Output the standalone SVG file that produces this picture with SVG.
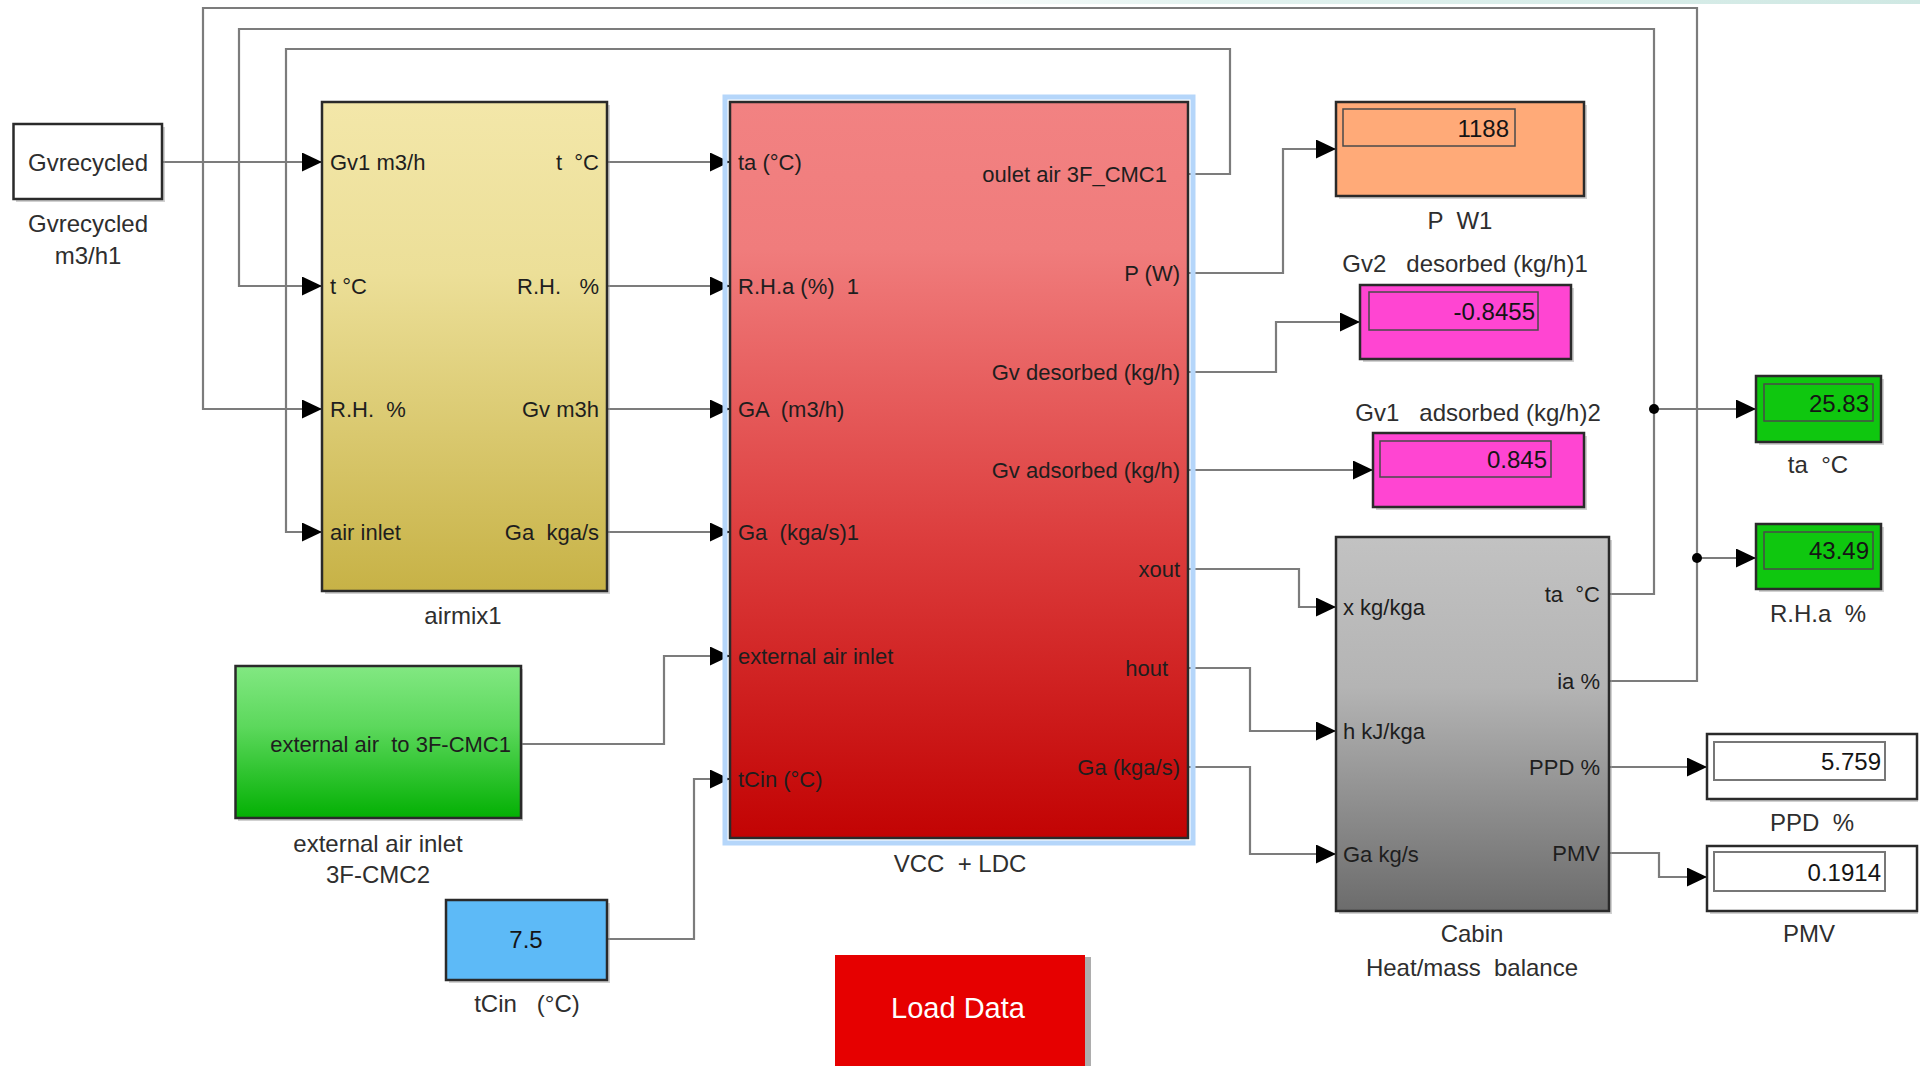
<svg xmlns="http://www.w3.org/2000/svg" width="1920" height="1066" viewBox="0 0 1920 1066" xml:space="preserve">
<defs>
<style>
text{white-space:pre}
.port{font-family:"Liberation Sans",Arial,sans-serif;font-size:22px;fill:#1e1e1e}
.lbl{font-family:"Liberation Sans",Arial,sans-serif;font-size:24px;fill:#2e2e2e}
.val{font-family:"Liberation Sans",Arial,sans-serif;font-size:24px;fill:#151515}
.end{text-anchor:end}
.mid{text-anchor:middle}
.blk{stroke:#2a2a2a;stroke-width:2.5}
.inner{fill:none;stroke:#4a4a4a;stroke-width:1.5}
.wire{fill:none;stroke:#7c7c7c;stroke-width:2.2}
.shadow{fill:#9a9a9a;opacity:0.45}
</style>
<marker id="arr" viewBox="0 0 20 19" refX="20" refY="9.5" markerWidth="20" markerHeight="19" markerUnits="userSpaceOnUse" orient="auto">
<path d="M0,0 L20,9.5 L0,19 Z" fill="#000"/>
</marker>
<linearGradient id="gMix" x1="0" y1="0" x2="0" y2="1"><stop offset="0" stop-color="#f3e7a9"/><stop offset="0.35" stop-color="#ecdf98"/><stop offset="1" stop-color="#c7b246"/></linearGradient>
<linearGradient id="gVcc" x1="0" y1="0" x2="0" y2="1"><stop offset="0" stop-color="#f28282"/><stop offset="0.2" stop-color="#f07c7c"/><stop offset="0.6" stop-color="#dc3c3c"/><stop offset="1" stop-color="#c20303"/></linearGradient>
<linearGradient id="gCab" x1="0" y1="0" x2="0" y2="1"><stop offset="0" stop-color="#c2c2c2"/><stop offset="0.4" stop-color="#b4b4b4"/><stop offset="1" stop-color="#6c6c6c"/></linearGradient>
<linearGradient id="gExt" x1="0" y1="0" x2="0" y2="1"><stop offset="0" stop-color="#82e882"/><stop offset="0.4" stop-color="#5cd85c"/><stop offset="1" stop-color="#03b003"/></linearGradient>
<linearGradient id="gTop" x1="0" y1="0" x2="1" y2="0"><stop offset="0" stop-color="#ffffff"/><stop offset="0.3" stop-color="#e2f2ef"/><stop offset="1" stop-color="#cfe8e3"/></linearGradient>
</defs>
<rect x="0" y="0" width="1920" height="1066" fill="#ffffff"/>
<rect x="900" y="0" width="1020" height="4" fill="url(#gTop)"/>

<g id="connectors">
<polyline class="wire" points="162,162 322,162" marker-end="url(#arr)"/>
<polyline class="wire" points="607,162 730,162" marker-end="url(#arr)"/>
<polyline class="wire" points="607,286 730,286" marker-end="url(#arr)"/>
<polyline class="wire" points="607,409 730,409" marker-end="url(#arr)"/>
<polyline class="wire" points="607,532 730,532" marker-end="url(#arr)"/>
<polyline class="wire" points="1609,681 1697,681 1697,8 203,8 203,409 322,409" marker-end="url(#arr)"/>
<polyline class="wire" points="1609,594 1654,594 1654,29 239,29 239,286 322,286" marker-end="url(#arr)"/>
<polyline class="wire" points="1188,174 1230,174 1230,49 286,49 286,532 322,532" marker-end="url(#arr)"/>
<polyline class="wire" points="1654,409 1756,409" marker-end="url(#arr)"/>
<polyline class="wire" points="1697,558 1756,558" marker-end="url(#arr)"/>
<circle cx="1654" cy="409" r="5" fill="#000"/>
<circle cx="1697" cy="558" r="5" fill="#000"/>
<polyline class="wire" points="1188,273 1283,273 1283,149 1336,149" marker-end="url(#arr)"/>
<polyline class="wire" points="1188,372 1276,372 1276,322 1360,322" marker-end="url(#arr)"/>
<polyline class="wire" points="1188,470 1373,470" marker-end="url(#arr)"/>
<polyline class="wire" points="1188,569 1299,569 1299,607 1336,607" marker-end="url(#arr)"/>
<polyline class="wire" points="1188,668 1250,668 1250,731 1336,731" marker-end="url(#arr)"/>
<polyline class="wire" points="1188,767 1250,767 1250,854 1336,854" marker-end="url(#arr)"/>
<polyline class="wire" points="521,744 664,744 664,656 730,656" marker-end="url(#arr)"/>
<polyline class="wire" points="607,939 694,939 694,779 730,779" marker-end="url(#arr)"/>
<polyline class="wire" points="1609,767 1707,767" marker-end="url(#arr)"/>
<polyline class="wire" points="1609,853 1659,853 1659,877 1707,877" marker-end="url(#arr)"/>
</g>

<g id="gvrecycled">
<rect class="shadow" x="16" y="127" width="149" height="75"/>
<rect x="13.5" y="124" width="148.5" height="75" fill="#fff" class="blk"/>
<text class="lbl mid" x="88" y="170.5">Gvrecycled</text>
<text class="lbl mid" x="88" y="231.5">Gvrecycled</text>
<text class="lbl mid" x="88" y="263.5">m3/h1</text>
</g>

<g id="airmix1">
<rect class="shadow" x="325" y="105" width="285" height="489"/>
<rect x="322" y="102" width="285" height="489" fill="url(#gMix)" class="blk"/>
<text class="port" x="330" y="170">Gv1 m3/h</text>
<text class="port" x="330" y="294">t °C</text>
<text class="port" x="330" y="417">R.H.  %</text>
<text class="port" x="330" y="540">air inlet</text>
<text class="port end" x="599" y="170">t  °C</text>
<text class="port end" x="599" y="294">R.H.   %</text>
<text class="port end" x="599" y="417">Gv m3h</text>
<text class="port end" x="599" y="540">Ga  kga/s</text>
<text class="lbl mid" x="463" y="623.5">airmix1</text>
</g>

<g id="vcc-ldc">
<rect x="725" y="97" width="468" height="746" fill="none" stroke="#b5d6fa" stroke-width="5"/>
<rect x="730" y="102" width="458" height="736" fill="url(#gVcc)" class="blk"/>
<text class="port" x="738" y="170">ta (°C)</text>
<text class="port" x="738" y="294">R.H.a (%)  1</text>
<text class="port" x="738" y="417">GA  (m3/h)</text>
<text class="port" x="738" y="540">Ga  (kga/s)1</text>
<text class="port" x="738" y="664">external air inlet</text>
<text class="port" x="738" y="787">tCin (°C)</text>
<text class="port end" x="1167" y="182">oulet air 3F_CMC1</text>
<text class="port end" x="1180" y="281">P (W)</text>
<text class="port end" x="1180" y="380">Gv desorbed (kg/h)</text>
<text class="port end" x="1180" y="478">Gv adsorbed (kg/h)</text>
<text class="port end" x="1180" y="577">xout</text>
<text class="port end" x="1168" y="676">hout</text>
<text class="port end" x="1180" y="775">Ga (kga/s)</text>
<text class="lbl mid" x="960" y="871.5">VCC  + LDC</text>
</g>

<g id="external-air-inlet">
<rect class="shadow" x="238" y="669" width="285" height="152"/>
<rect x="235.5" y="666" width="285.5" height="152" fill="url(#gExt)" class="blk"/>
<text class="port end" x="511" y="752">external air  to 3F-CMC1</text>
<text class="lbl mid" x="378" y="851.5">external air inlet</text>
<text class="lbl mid" x="378" y="882.5">3F-CMC2</text>
</g>

<g id="tcin">
<rect class="shadow" x="449" y="903" width="161" height="80"/>
<rect x="446" y="900" width="161" height="80" fill="#5dbaf7" class="blk"/>
<text class="val mid" x="526" y="947.5">7.5</text>
<text class="lbl mid" x="527" y="1011.5">tCin   (°C)</text>
</g>

<g id="load-data">
<rect x="1085" y="957" width="6" height="109" fill="#8a8a8a" opacity="0.7"/>
<rect x="835" y="955" width="250" height="111" fill="#e60000"/>
<text class="mid" x="958" y="1018" style="font-family:'Liberation Sans',Arial,sans-serif;font-size:29px;fill:#ffffff">Load Data</text>
</g>

<g id="p-w1">
<rect class="shadow" x="1339" y="105" width="248" height="94"/>
<rect x="1336" y="102" width="248" height="94" fill="#ffaa78" class="blk"/>
<rect x="1343" y="109" width="172" height="37" class="inner"/>
<text class="val end" x="1509" y="136.5">1188</text>
<text class="lbl mid" x="1460" y="228.5">P  W1</text>
</g>

<g id="gv2-desorbed">
<text class="lbl mid" x="1465" y="271.5">Gv2   desorbed (kg/h)1</text>
<rect class="shadow" x="1363" y="288" width="211" height="74"/>
<rect x="1360" y="285" width="211" height="74" fill="#ff45d2" class="blk"/>
<rect x="1369" y="292" width="169" height="38" class="inner"/>
<text class="val end" x="1535" y="319.5">-0.8455</text>
</g>

<g id="gv1-adsorbed">
<text class="lbl mid" x="1478" y="420.5">Gv1   adsorbed (kg/h)2</text>
<rect class="shadow" x="1376" y="436" width="211" height="74"/>
<rect x="1373" y="433" width="211" height="74" fill="#ff45d2" class="blk"/>
<rect x="1380" y="441" width="171" height="36" class="inner"/>
<text class="val end" x="1547" y="467.5">0.845</text>
</g>

<g id="ta-display">
<rect class="shadow" x="1759" y="379" width="125" height="66"/>
<rect x="1756" y="376" width="125" height="66" fill="#0fc70f" class="blk"/>
<rect x="1764" y="384" width="109" height="37" class="inner"/>
<text class="val end" x="1869" y="411.5">25.83</text>
<text class="lbl mid" x="1818" y="472.5">ta  °C</text>
</g>

<g id="rha-display">
<rect class="shadow" x="1759" y="527" width="125" height="65"/>
<rect x="1756" y="524" width="125" height="65" fill="#0fc70f" class="blk"/>
<rect x="1764" y="532" width="109" height="37" class="inner"/>
<text class="val end" x="1869" y="558.5">43.49</text>
<text class="lbl mid" x="1818" y="621.5">R.H.a  %</text>
</g>

<g id="cabin">
<rect class="shadow" x="1339" y="540" width="273" height="374"/>
<rect x="1336" y="537" width="273" height="374" fill="url(#gCab)" class="blk"/>
<text class="port" x="1343" y="615">x kg/kga</text>
<text class="port" x="1343" y="739">h kJ/kga</text>
<text class="port" x="1343" y="862">Ga kg/s</text>
<text class="port end" x="1600" y="602">ta  °C</text>
<text class="port end" x="1600" y="689">ia %</text>
<text class="port end" x="1600" y="775">PPD %</text>
<text class="port end" x="1600" y="861">PMV</text>
<text class="lbl mid" x="1472" y="941.5">Cabin</text>
<text class="lbl mid" x="1472" y="975.5">Heat/mass  balance</text>
</g>

<g id="ppd-display">
<rect class="shadow" x="1710" y="737" width="208" height="65"/>
<rect x="1707" y="734" width="210" height="65" fill="#fff" class="blk"/>
<rect x="1714" y="742" width="171" height="38" fill="none" stroke="#777" stroke-width="2"/>
<text class="val end" x="1881" y="769.5">5.759</text>
<text class="lbl mid" x="1812" y="830.5">PPD  %</text>
</g>

<g id="pmv-display">
<rect class="shadow" x="1710" y="849" width="208" height="65"/>
<rect x="1707" y="846" width="210" height="65" fill="#fff" class="blk"/>
<rect x="1714" y="852" width="171" height="39" fill="none" stroke="#777" stroke-width="2"/>
<text class="val end" x="1881" y="880.5">0.1914</text>
<text class="lbl mid" x="1809" y="941.5">PMV</text>
</g>
</svg>
